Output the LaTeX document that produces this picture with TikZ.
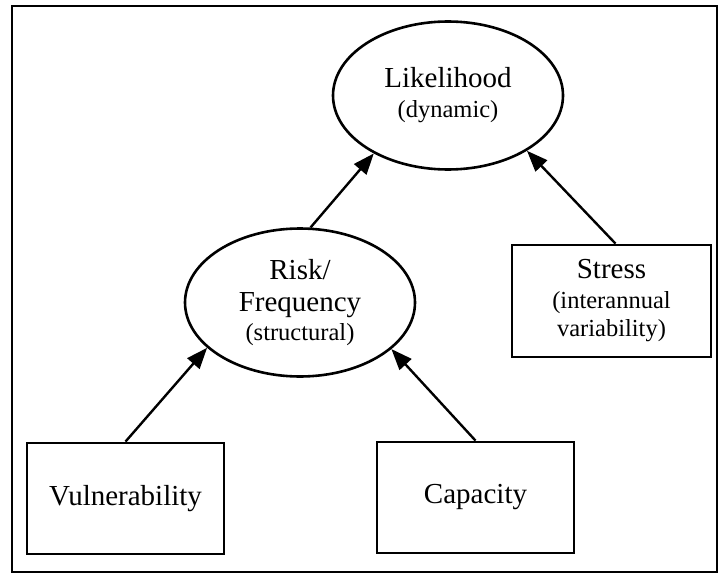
\documentclass[tikz,border=0pt]{standalone}
\usepackage{fontspec}
\setmainfont{Liberation Serif}
\usetikzlibrary{
    arrows.meta,      % For arrow tips
    shapes.geometric  % For the ellipses
}

\begin{document}
\begin{tikzpicture}[
    x=1pt, y=-1pt,
    >={Triangle[length=21pt, width=16pt]}, % Default arrow tip
    oval/.style={ellipse, draw, line width=2.6pt, inner sep=0pt,
        minimum width=230pt, minimum height=148pt, align=center,
        font=\fontsize{29}{32}\selectfont},
    factor/.style={rectangle, draw, line width=2.8pt, inner sep=0pt,
        minimum width=197pt, minimum height=111pt, align=center,
        font=\fontsize{29}{32}\selectfont},
    link/.style={->, line width=2.4pt}
]
    \useasboundingbox (0,0) rectangle (719,575);

    % Outer frame
    \draw[line width=2.4pt] (12,6) rectangle (717,572);

    % Ellipses
    \node[oval] (like) at (448,95.5)
        {Likelihood\\[-2pt]{\fontsize{24.5}{27}\selectfont(dynamic)}};
    \node[oval] (risk) at (300,302.5)
        {Risk/\\Frequency\\[-3pt]{\fontsize{24.5}{27}\selectfont(structural)}};

    % Boxes
    \node[factor, minimum width=199pt, minimum height=112pt] (stress) at (611.5,301)
        {Stress\\[-2pt]{\fontsize{24.5}{27}\selectfont(interannual}\\[-4pt]
         {\fontsize{24.5}{27}\selectfont variability)}};
    \node[factor] (vul) at (125.5,498.5) {Vulnerability};
    \node[factor] (cap) at (475.5,497.5) {Capacity};

    % Connectors
    \draw[link] (risk.82) -- (like.218);
    \draw[link] ([xshift=4pt]stress.north) -- (like.325);
    \draw[link] (vul.north) -- (risk.206.6);
    \draw[link] (cap.north) -- (risk.333.4);

\end{tikzpicture}
\end{document}
